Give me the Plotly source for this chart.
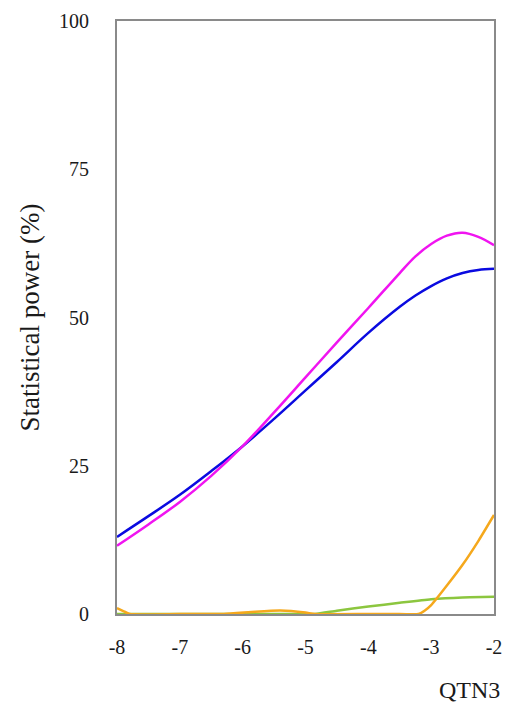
import plotly.graph_objects as go

# Data
x_main = [-8, -7.5, -7, -6.5, -6, -5.5, -5, -4.5, -4, -3.5, -3.25, -3, -2.75, -2.5, -2.25, -2]
blue_vals = [13.0, 16.5, 20.1, 24.1, 28.3, 32.9, 37.7, 42.5, 47.4, 51.8, 53.7, 55.3, 56.6, 57.5, 58.0, 58.2]
magenta_vals = [11.5, 15.1, 18.9, 23.3, 28.3, 34.0, 39.9, 45.8, 51.6, 57.5, 60.3, 62.4, 63.8, 64.3, 63.6, 62.2]

x_orange = [-8, -7.9, -7.8, -7.0, -6.3, -5.8, -5.4, -5.0, -4.85, -4.0, -3.6, -3.2, -3.1, -3.0, -2.75, -2.5, -2.25, -2]
orange_vals = [1.0, 0.5, 0.0, 0.0, 0.0, 0.4, 0.6, 0.25, 0.0, 0.0, 0.0, 0.0, 0.6, 1.5, 4.8, 8.3, 12.3, 16.7]

x_green = [-8, -7, -6, -5.2, -4.85, -4.5, -4, -3.5, -3, -2.5, -2]
green_vals = [0.0, 0.0, 0.0, 0.0, 0.0, 0.55, 1.25, 1.9, 2.5, 2.8, 2.9]

x_ticks = [-8, -7, -6, -5, -4, -3, -2]
y_ticks = [0, 25, 50, 75, 100]

FONT = "Liberation Serif, Times New Roman, serif"

fig = go.Figure()
fig.add_trace(go.Scatter(x=x_main, y=blue_vals, mode="lines", name="blue",
                         line=dict(color="#0a0ae0", width=2.5, shape="spline", smoothing=1.0)))
fig.add_trace(go.Scatter(x=x_main, y=magenta_vals, mode="lines", name="magenta",
                         line=dict(color="#f014f0", width=2.5, shape="spline", smoothing=1.0)))
fig.add_trace(go.Scatter(x=x_green, y=green_vals, mode="lines", name="green",
                         line=dict(color="#8cc63f", width=2.5, shape="spline", smoothing=0.6)))
fig.add_trace(go.Scatter(x=x_orange, y=orange_vals, mode="lines", name="orange",
                         line=dict(color="#f5a81c", width=2.5, shape="spline", smoothing=0.5)))

fig.update_layout(
    width=503, height=697,
    margin=dict(l=109, r=17, t=13, b=91),
    paper_bgcolor="white", plot_bgcolor="white",
    showlegend=False,
    font=dict(family=FONT, size=20, color="#1a1a1a"),
)
fig.update_xaxes(range=[-8, -2], tickvals=x_ticks, ticktext=[str(v) for v in x_ticks],
                 showgrid=False, zeroline=False, showline=True, mirror=True, automargin=False,
                 linecolor="#8a8a8a", linewidth=2, ticks="", ticklabelstandoff=14,
                 tickfont=dict(family=FONT, size=20))
fig.update_yaxes(range=[0, 100], tickvals=y_ticks, ticktext=[str(v) for v in y_ticks],
                 showgrid=False, zeroline=False, showline=True, mirror=True, automargin=False,
                 linecolor="#8a8a8a", linewidth=2, ticks="", ticklabelstandoff=22,
                 tickfont=dict(family=FONT, size=20))

fig.add_annotation(text="Statistical power (%)", xref="paper", yref="paper",
                   x=0, y=0.5, xshift=-88, textangle=-90, showarrow=False,
                   font=dict(family=FONT, size=27, color="#1a1a1a"),
                   xanchor="center", yanchor="middle")
fig.add_annotation(text="QTN3", xref="paper", yref="paper",
                   x=1, y=0, xshift=8, yshift=-76, showarrow=False,
                   font=dict(family=FONT, size=24, color="#1a1a1a"),
                   xanchor="right", yanchor="middle")

fig.write_html("out.html")
